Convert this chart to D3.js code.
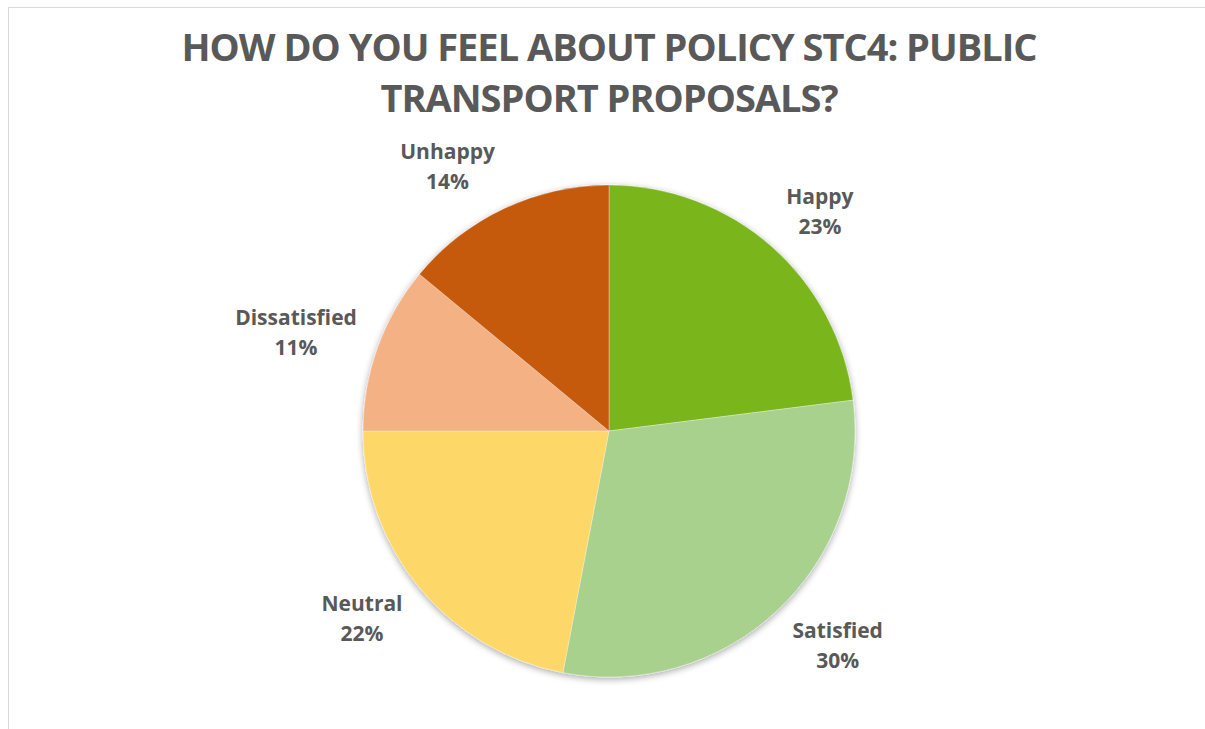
<!DOCTYPE html>
<html>
<head>
<meta charset="utf-8">
<script src="https://cdn.jsdelivr.net/npm/d3@7/dist/d3.min.js"></script>
<style>
  html, body { margin: 0; padding: 0; background: #ffffff; }
  svg { display: block; }
</style>
</head>
<body>
<svg id="chart" width="1205" height="729"></svg>
<script>
// Survey responses for policy STC4
const categories = ["Happy", "Satisfied", "Neutral", "Dissatisfied", "Unhappy"];
const percentages = [23, 30, 22, 11, 14];
const sliceColors = ["#7AB51E", "#A9D18E", "#FDD867", "#F4B183", "#C55A11"];
const titleLines = ["HOW DO YOU FEEL ABOUT POLICY STC4: PUBLIC", "TRANSPORT PROPOSALS?"];

const width = 1205, height = 729;
const cx = 609, cy = 431, radius = 246;
const textColor = "#595959";
const font = "'Open Sans', 'Noto Sans', sans-serif";

const svg = d3.select("#chart");

// Chart area frame (only top and left edges fall inside the view)
svg.append("rect")
  .attr("x", 8.5).attr("y", 7.5)
  .attr("width", 1400).attr("height", 1000)
  .attr("fill", "#ffffff")
  .attr("stroke", "#d9d9d9")
  .attr("stroke-width", 1);

// Soft shadow under the pie
const defs = svg.append("defs");
const shadow = defs.append("filter").attr("id", "pieShadow")
  .attr("x", "-10%").attr("y", "-10%").attr("width", "120%").attr("height", "120%");
shadow.append("feGaussianBlur").attr("in", "SourceAlpha").attr("stdDeviation", 3.5).attr("result", "blur");
shadow.append("feOffset").attr("in", "blur").attr("dx", 0).attr("dy", 2).attr("result", "off");
shadow.append("feComponentTransfer").attr("in", "off").attr("result", "shade")
  .append("feFuncA").attr("type", "linear").attr("slope", 0.35);
const merge = shadow.append("feMerge");
merge.append("feMergeNode").attr("in", "shade");
merge.append("feMergeNode").attr("in", "SourceGraphic");

// Title
const title = svg.append("g").attr("font-family", font).attr("font-weight", 700)
  .attr("font-size", 38).attr("letter-spacing", -1)
  .attr("fill", textColor).attr("text-anchor", "middle");
title.selectAll("text").data(titleLines).join("text")
  .attr("x", cx)
  .attr("y", (d, i) => 61 + i * 51)
  .text(d => d);

// Pie
const data = categories.map((c, i) => ({ name: c, value: percentages[i], color: sliceColors[i] }));
const pie = d3.pie().value(d => d.value).sort(null);
const arcs = pie(data);
const arc = d3.arc().innerRadius(0).outerRadius(radius);

const g = svg.append("g").attr("transform", `translate(${cx},${cy})`);
g.append("g").attr("filter", "url(#pieShadow)")
  .selectAll("path").data(arcs).join("path")
  .attr("d", arc)
  .attr("fill", d => d.data.color)
  .attr("stroke", "#ffffff")
  .attr("stroke-opacity", 0.4)
  .attr("stroke-width", 0.8);

// Data labels placed just outside each slice, pushed sideways by half their width
const labelRadius = radius + 22, boxH = 50, labelSize = 21;
const labels = g.append("g").attr("font-family", font).attr("font-weight", 700)
  .attr("font-size", labelSize).attr("fill", textColor).attr("text-anchor", "middle");

arcs.forEach(a => {
  const mid = (a.startAngle + a.endAngle) / 2;
  const s = Math.sin(mid), c = Math.cos(mid);
  const t = labels.append("text");
  t.append("tspan").attr("class", "nm").text(a.data.name);
  t.append("tspan").attr("class", "pc").text(a.data.value + "%");
  const w = Math.max(
    t.select(".nm").node().getComputedTextLength(),
    t.select(".pc").node().getComputedTextLength());
  const bx = labelRadius * s + Math.sign(s) * w / 2;
  const by = -labelRadius * c - c * boxH / 2;
  t.select(".nm").attr("x", bx).attr("y", by - 7);
  t.select(".pc").attr("x", bx).attr("y", by + 23);
});
</script>
</body>
</html>
